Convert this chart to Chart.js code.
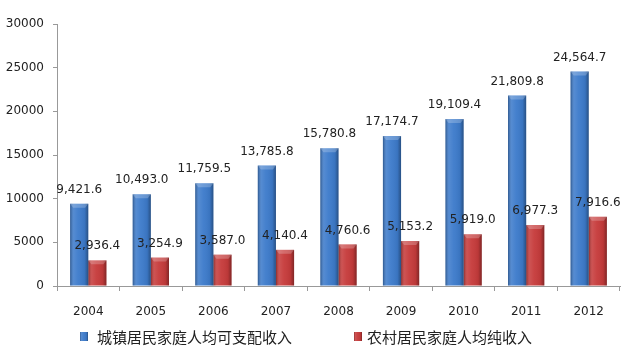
<!DOCTYPE html>
<html>
<head>
<meta charset="utf-8">
<script src="https://cdn.jsdelivr.net/npm/chart.js@4.4.1/dist/chart.umd.min.js"></script>
<style>
  html, body { margin: 0; padding: 0; background: #fff; }
  #wrap { width: 625px; height: 348px; position: relative; }
</style>
</head>
<body>
<div id="wrap"><canvas id="incomeChart"></canvas></div>
<script>
const years = ["2004", "2005", "2006", "2007", "2008", "2009", "2010", "2011", "2012"];
const urbanIncome = [9421.6, 10493.0, 11759.5, 13785.8, 15780.8, 17174.7, 19109.4, 21809.8, 24564.7];
const ruralIncome = [2936.4, 3254.9, 3587.0, 4140.4, 4760.6, 5153.2, 5919.0, 6977.3, 7916.6];
const seriesNames = ["城镇居民家庭人均可支配收入", "农村居民家庭人均纯收入"];
const seriesColors = ["#3d7bcb", "#c63b3b"];
const yMax = 30000;
const yStep = 5000;

const NUM_FONT = '12px "DejaVu Sans"';
const fmt = v => v.toLocaleString("en-US", { minimumFractionDigits: 1, maximumFractionDigits: 1 });

// fake 3D look on top of the flat bars
function shadeBar(ctx, left, top, w, h) {
    const g = ctx.createLinearGradient(left, 0, left + w, 0);
    g.addColorStop(0, "rgba(0,0,0,0.3)");
    g.addColorStop(0.2, "rgba(255,255,255,0.12)");
    g.addColorStop(0.45, "rgba(255,255,255,0.04)");
    g.addColorStop(0.8, "rgba(0,0,0,0.06)");
    g.addColorStop(1, "rgba(0,0,0,0.35)");
    ctx.fillStyle = g;
    ctx.fillRect(left, top, w, h);
}

const barLook = {
    id: "barLook",
    afterDatasetsDraw(chart) {
        const ctx = chart.ctx;
        ctx.save();
        chart.data.datasets.forEach((ds, i) => {
            chart.getDatasetMeta(i).data.forEach(el => {
                const left = el.x - el.width / 2;
                const h = el.base - el.y;
                shadeBar(ctx, left, el.y, el.width, h);
                // bevel on top
                ctx.beginPath();
                ctx.moveTo(left, el.y);
                ctx.lineTo(left + el.width, el.y);
                ctx.lineTo(left + el.width - 3, el.y + 4);
                ctx.lineTo(left + 3, el.y + 4);
                ctx.closePath();
                ctx.fillStyle = "rgba(255,255,255,0.22)";
                ctx.fill();
            });
        });
        // value labels
        ctx.font = NUM_FONT;
        ctx.fillStyle = "#222";
        ctx.textAlign = "center";
        ctx.textBaseline = "middle";
        chart.data.datasets.forEach((ds, i) => {
            chart.getDatasetMeta(i).data.forEach((el, j) => {
                ctx.fillText(fmt(ds.data[j]), el.x, el.y - 14);
            });
        });
        ctx.restore();
    }
};

const legendPos = [{ box: 80, text: 97 }, { box: 354, text: 367 }];
const bottomLegend = {
    id: "bottomLegend",
    afterDraw(chart) {
        const ctx = chart.ctx;
        const cy = 337;
        ctx.save();
        chart.data.datasets.forEach((ds, i) => {
            const p = legendPos[i];
            ctx.fillStyle = ds.backgroundColor;
            ctx.fillRect(p.box, cy - 5, 8, 9);
            shadeBar(ctx, p.box, cy - 5, 8, 9);
            ctx.fillStyle = "#222";
            ctx.font = '15px "Noto Sans CJK SC"';
            ctx.textAlign = "left";
            ctx.textBaseline = "middle";
            ctx.fillText(ds.label, p.text, cy);
        });
        ctx.restore();
    }
};

new Chart(document.getElementById("incomeChart"), {
    type: "bar",
    data: {
        labels: years,
        datasets: [
            { label: seriesNames[0], data: urbanIncome, backgroundColor: seriesColors[0] },
            { label: seriesNames[1], data: ruralIncome, backgroundColor: seriesColors[1] }
        ]
    },
    options: {
        responsive: true,
        maintainAspectRatio: false,
        animation: false,
        categoryPercentage: 0.58,
        barPercentage: 1.0,
        layout: { padding: { top: 24, right: 5, bottom: 26, left: 0 } },
        plugins: {
            legend: { display: false },
            tooltip: { enabled: false }
        },
        scales: {
            x: {
                grid: { offset: true, drawOnChartArea: false, color: "#999", tickLength: 5 },
                border: { color: "#999" },
                ticks: { font: { family: "DejaVu Sans", size: 12 }, color: "#222", padding: 14 },
                afterFit: s => { s.height = 36; }
            },
            y: {
                min: 0,
                max: yMax,
                grid: { drawOnChartArea: false, color: "#999", tickLength: 4 },
                border: { color: "#999" },
                ticks: {
                    stepSize: yStep,
                    font: { family: "DejaVu Sans", size: 12 },
                    color: "#222",
                    padding: 9,
                    callback: v => String(v)
                },
                afterFit: s => { s.width = 57; }
            }
        }
    },
    plugins: [barLook, bottomLegend]
});
</script>
</body>
</html>
